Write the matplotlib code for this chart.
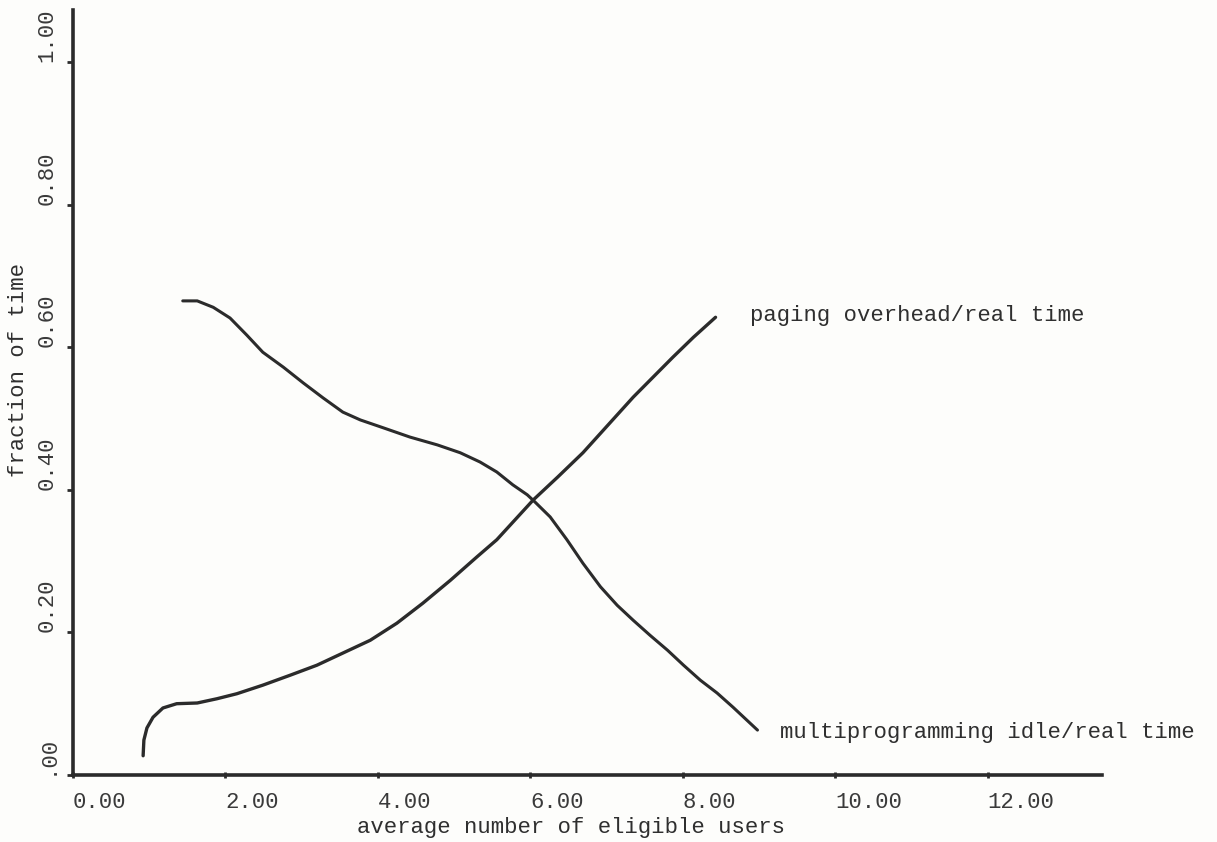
import matplotlib.pyplot as plt

# values
idle_x = [1.44, 1.63, 1.84, 2.06, 2.28, 2.49, 2.76, 3.02, 3.28, 3.54, 3.77, 4.07, 4.42,
          4.78, 5.08, 5.34, 5.56, 5.77, 5.96, 6.06, 6.26, 6.48, 6.69, 6.92, 7.14, 7.35,
          7.57, 7.80, 8.01, 8.23, 8.45, 8.66, 8.98]
idle_y = [0.665, 0.665, 0.656, 0.641, 0.617, 0.593, 0.572, 0.550, 0.529, 0.509, 0.498, 0.487,
          0.474, 0.463, 0.452, 0.439, 0.425, 0.407, 0.393, 0.383, 0.362, 0.330, 0.297, 0.264,
          0.238, 0.217, 0.196, 0.175, 0.154, 0.133, 0.115, 0.095, 0.063]

paging_x = [0.92, 0.93, 0.97, 1.05, 1.18, 1.36, 1.63, 1.89, 2.15, 2.49, 2.85, 3.20, 3.54,
            3.90, 4.25, 4.59, 4.95, 5.30, 5.56, 6.04, 6.36, 6.69, 7.02, 7.35, 7.61, 7.87,
            8.14, 8.43]
paging_y = [0.027, 0.049, 0.066, 0.081, 0.094, 0.100, 0.101, 0.107, 0.114, 0.126, 0.140, 0.154,
            0.171, 0.189, 0.213, 0.241, 0.273, 0.306, 0.330, 0.386, 0.418, 0.452, 0.491, 0.530,
            0.558, 0.586, 0.614, 0.642]

x_ticks = [0, 2, 4, 6, 8, 10, 12]
x_labels = ['0.00', '2.00', '4.00', '6.00', '8.00', '10.00', '12.00']
y_ticks = [0, 0.2, 0.4, 0.6, 0.8, 1.0]
y_labels = ['.00', '0.20', '0.40', '0.60', '0.80', '1.00']

ink = '#2b2b2b'
plt.rcParams['font.family'] = ['Liberation Mono', 'DejaVu Sans Mono']

fig = plt.figure(figsize=(12.17, 8.42), dpi=100, facecolor='#fdfdfb')
ax = fig.add_axes([73/1217, 67/842, 1029/1217, 765/842])
ax.set_facecolor('#fdfdfb')

ax.plot(idle_x, idle_y, color=ink, lw=2.2, solid_capstyle='round', solid_joinstyle='round')
ax.plot(paging_x, paging_y, color=ink, lw=2.4, solid_capstyle='round', solid_joinstyle='round')

ax.set_xlim(0, 13.5)
ax.set_ylim(0, 1.073)

for s in ['top', 'right']:
    ax.spines[s].set_visible(False)
for s in ['left', 'bottom']:
    ax.spines[s].set_linewidth(2.6)
    ax.spines[s].set_color(ink)

ax.set_xticks(x_ticks)
ax.set_xticklabels(x_labels, ha='left', fontsize=16, color='#3a3a3a')
ax.set_yticks(y_ticks)
ax.set_yticklabels(y_labels, rotation=90, va='bottom', fontsize=16, color='#3a3a3a')
ax.tick_params(axis='x', direction='inout', length=5, width=2, color=ink, pad=10)
ax.tick_params(axis='y', direction='out', length=4, width=2, color=ink, pad=7)

ax.text(8.88, 0.644, 'paging overhead/real time', fontsize=16, color='#2f2f2f',
        ha='left', va='center')
ax.text(9.28, 0.060, 'multiprogramming idle/real time', fontsize=16, color='#2f2f2f',
        ha='left', va='center')

fig.text(571/1217, 1 - 828/842, 'average number of eligible users', fontsize=16,
         color='#2f2f2f', ha='center', va='center')
fig.text(19/1217, 1 - 370/842, 'fraction of time', fontsize=16, color='#2f2f2f',
         ha='center', va='center', rotation=90)

fig.savefig('out.png', dpi=100, facecolor=fig.get_facecolor())
